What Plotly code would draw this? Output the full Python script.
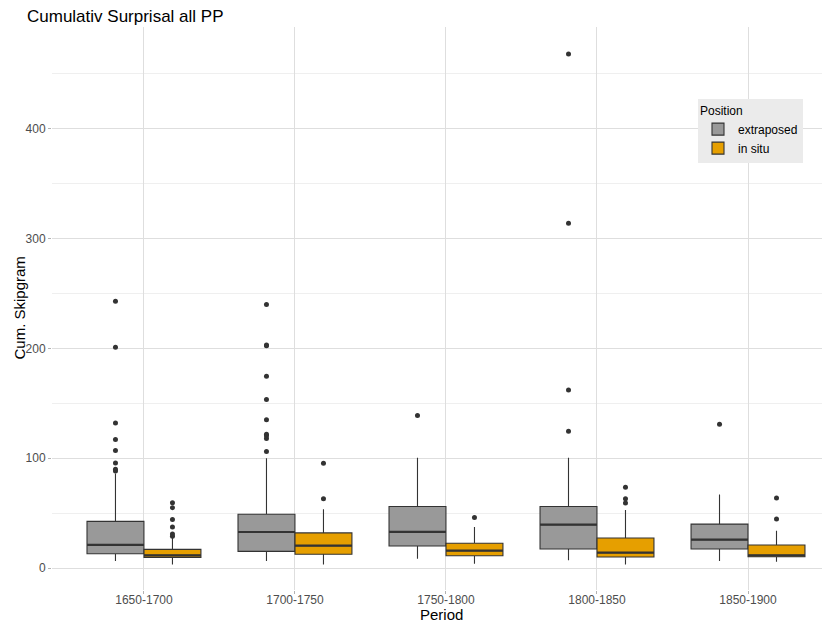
import plotly.graph_objects as go

periods = ["1650-1700", "1700-1750", "1750-1800", "1800-1850", "1850-1900"]

# extraposed
ext_q1 = [13, 15.2, 20, 17.3, 17.3]
ext_med = [21, 32.8, 33, 39.5, 25.8]
ext_q3 = [42.5, 49, 56, 56, 40]
ext_lo = [6.4, 6.4, 8.5, 7, 6.4]
ext_hi = [86, 100, 100.5, 100.5, 67]
ext_out = [
    [88.4, 90, 95.7, 107, 117, 132, 201, 243],
    [106, 118, 120.5, 121.8, 135, 153.4, 174.7, 202.3, 203, 240],
    [138.8],
    [124.5, 162, 314, 468],
    [131],
]

# in situ
ins_q1 = [9.7, 12.5, 11.2, 10, 10.3]
ins_med = [11.5, 20.4, 15.8, 14, 11.5]
ins_q3 = [17, 32, 22.5, 27.3, 21]
ins_lo = [3.3, 3.3, 4, 3.3, 5.7]
ins_hi = [27.6, 53.5, 37.4, 52.8, 34]
ins_out = [
    [29, 31, 37.4, 44.3, 55, 59.5],
    [63, 95.4],
    [46],
    [59.2, 63, 73.5],
    [44.6, 63.8],
]

groups = [
    ("extraposed", "#999999", -0.1887, ext_q1, ext_med, ext_q3, ext_lo, ext_hi, ext_out),
    ("in situ", "#E69F00", 0.1887, ins_q1, ins_med, ins_q3, ins_lo, ins_hi, ins_out),
]
bw = 0.377
dark = "#333333"

fig = go.Figure()
for name, col, off, q1, med, q3, lo, hi, outs in groups:
    for i in range(len(periods)):
        xp = i + off
        fig.add_trace(go.Box(
            x=[xp], q1=[q1[i]], median=[med[i]], q3=[q3[i]],
            lowerfence=[lo[i]], upperfence=[hi[i]],
            width=bw, name=name, legendgroup=name, showlegend=(i == 0),
            fillcolor=col, line=dict(color=dark, width=1.1),
            whiskerwidth=0, boxpoints=False, hoverinfo="skip",
        ))
        # thicker median line
        fig.add_trace(go.Scatter(
            x=[xp - bw / 2, xp + bw / 2], y=[med[i], med[i]], mode="lines",
            line=dict(color=dark, width=2.2), showlegend=False, hoverinfo="skip",
        ))
        if outs[i]:
            fig.add_trace(go.Scatter(
                x=[xp] * len(outs[i]), y=outs[i], mode="markers",
                marker=dict(color=dark, size=5), showlegend=False, hoverinfo="skip",
            ))

font = "Liberation Sans, Arial, Helvetica, sans-serif"
# page body has an 8px default margin; compensate in the layout
L, T, R, B = 44, 19, 8, 45
pw, ph = 830 - L - R, 627 - T - B
fig.update_layout(
    width=830, height=627,
    margin=dict(l=L, r=R, t=T, b=B),
    paper_bgcolor="white", plot_bgcolor="white",
    font=dict(family=font, color="#000000"),
    title=dict(text="Cumulativ Surprisal all PP", x=19 / 830, xref="container",
               y=1 - 8 / 627, yref="container", yanchor="middle", xanchor="left",
               font=dict(size=17, color="#000000")),
    showlegend=True,
    legend=dict(
        x=(690 - L) / pw, y=(T + ph - 91) / ph, xanchor="left", yanchor="top",
        bgcolor="#ebebeb", borderwidth=0,
        title=dict(text="Position", font=dict(size=12, color="#000000")),
        font=dict(size=12, color="#000000"),
        tracegroupgap=0, itemwidth=30,
    ),
    xaxis=dict(
        range=[-0.609, 4.543], tickmode="array", tickvals=list(range(len(periods))),
        ticktext=periods, showgrid=True, gridcolor="#dedede", gridwidth=1,
        zeroline=False, ticks="outside", ticklen=3, tickcolor="#b3b3b3",
        tickfont=dict(size=12, color="#4d4d4d"), ticklabelstandoff=-4,
        automargin=False, showline=False,
    ),
    yaxis=dict(
        range=[-20, 492.6], tickmode="array", tickvals=[0, 100, 200, 300, 400],
        showgrid=True, gridcolor="#dedede", gridwidth=1, zeroline=False,
        ticks="outside", ticklen=3, tickcolor="#b3b3b3",
        tickfont=dict(size=12, color="#4d4d4d"),
        minor=dict(tickvals=[50, 150, 250, 350, 450], showgrid=True,
                   gridcolor="#efefef", gridwidth=0.8, ticks=""),
        automargin=False, showline=False,
    ),
    annotations=[
        dict(text="Period", xref="paper", yref="paper", x=0.5, y=(582 - 606) / ph,
             xanchor="center", yanchor="middle", showarrow=False,
             font=dict(size=15, color="#000000")),
        dict(text="Cum. Skipgram", xref="paper", yref="paper", x=(11 - L) / pw, y=0.5,
             xanchor="center", yanchor="middle", textangle=-90, showarrow=False,
             font=dict(size=15, color="#000000")),
    ],
)

fig.write_html("out.html")
